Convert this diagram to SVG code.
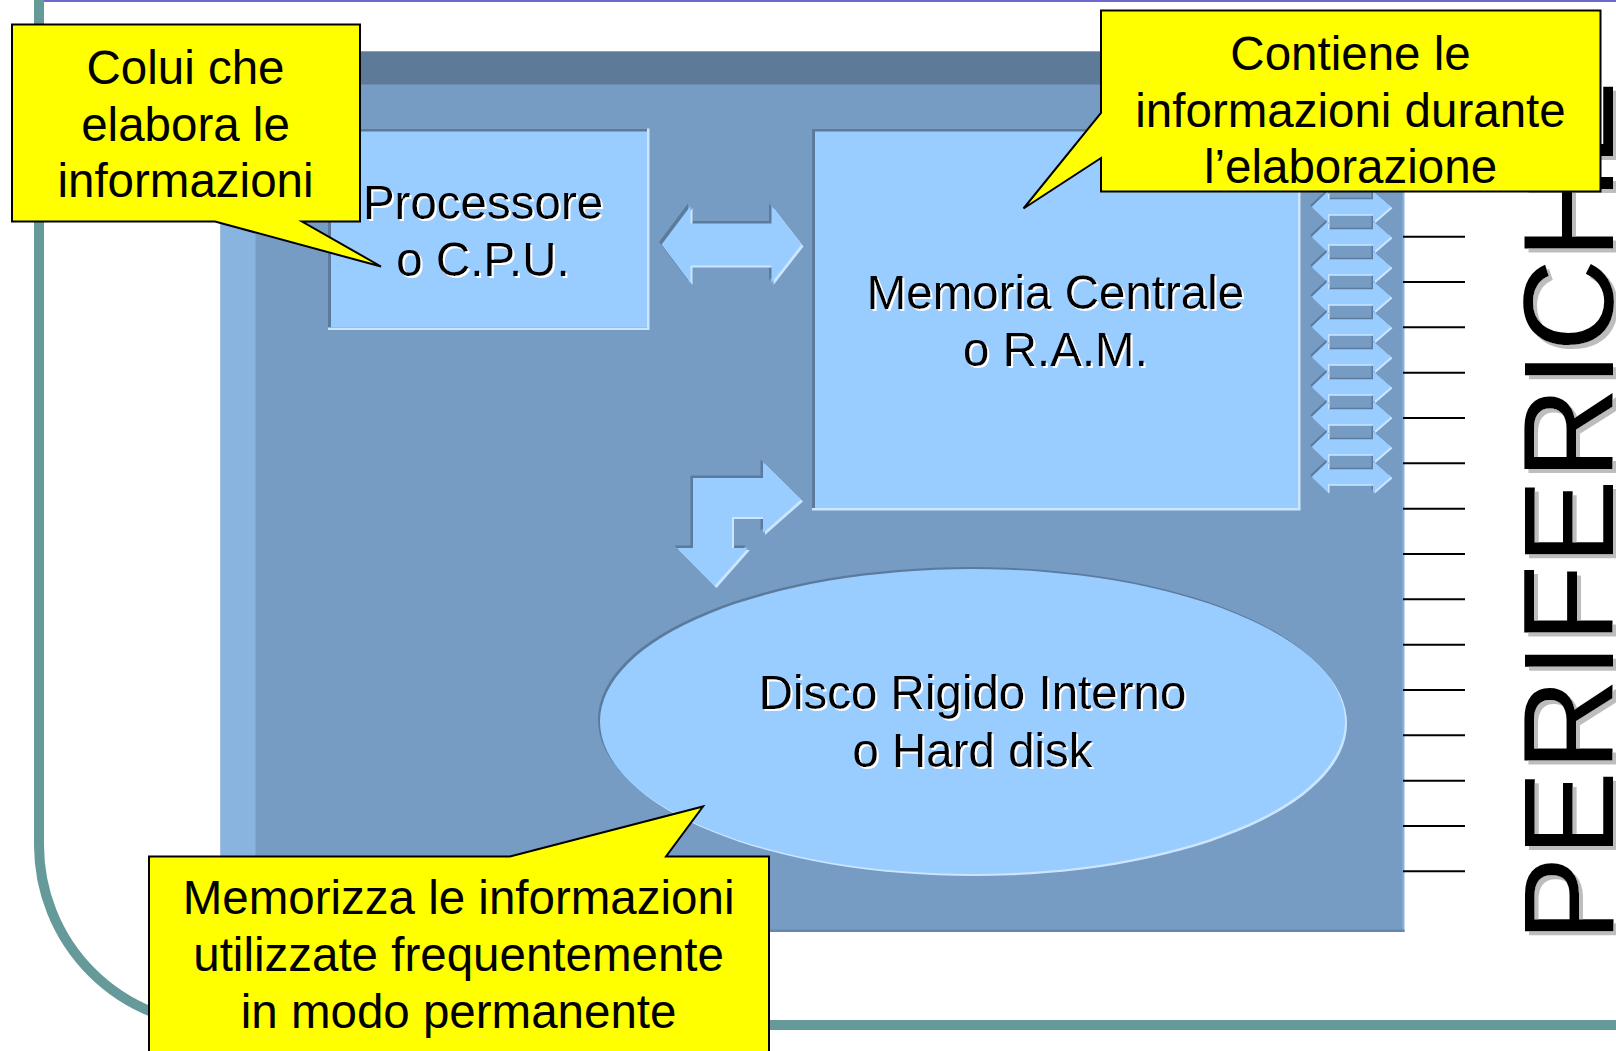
<svg xmlns="http://www.w3.org/2000/svg" xmlns:xlink="http://www.w3.org/1999/xlink" width="1616" height="1051" viewBox="0 0 1616 1051">
<style>
.t{font-family:"Liberation Sans",Arial,sans-serif;font-size:47.5px;fill:#000;text-anchor:middle}
.callout{fill:#ffff00;stroke:#000;stroke-width:2;stroke-linejoin:miter}
.tick{stroke:#000;stroke-width:2}
.dk{fill:#5b7a9c}
.lt{fill:#cce6ff}
.fl{fill:#99ccff}
</style>
<defs>
<filter id="ws" x="-10%" y="-20%" width="120%" height="150%">
<feFlood flood-color="#ffffff"/>
<feComposite in2="SourceAlpha" operator="in"/>
<feOffset dx="2" dy="2" result="s"/>
<feMerge><feMergeNode in="s"/><feMergeNode in="SourceGraphic"/></feMerge>
</filter>
<filter id="gs" x="-10%" y="-10%" width="120%" height="120%">
<feFlood flood-color="#bdbdbd"/>
<feComposite in2="SourceAlpha" operator="in"/>
<feOffset dx="4" dy="4" result="s"/>
<feMerge><feMergeNode in="s"/><feMergeNode in="SourceGraphic"/></feMerge>
</filter>
<path id="dbl" d="M661.6,244.5 L690.5,206 L690.5,223.5 L771.5,223.5 L771.5,206 L801.5,244.5 L771.5,283 L771.5,265.5 L690.5,265.5 L690.5,283 Z"/>
<path id="bent" d="M693,478 L763,478 L763,462 L801,499.5 L763,533 L763,517 L732,517 L732,548 L748,548 L714.5,586 L677,548 L693,548 Z"/>
<path id="sap" d="M0,0 L16.3,-15.5 L16.3,-7.5 L61.3,-7.5 L61.3,-15.5 L79.3,0 L61.3,15.5 L61.3,7.5 L16.3,7.5 L16.3,15.5 Z"/>
<g id="sa">
<use xlink:href="#sap" class="dk" x="-1.5" y="-1.5"/>
<use xlink:href="#sap" class="lt" x="1.5" y="1.5"/>
<use xlink:href="#sap" class="fl"/>
</g>
</defs>

<rect x="0" y="0" width="1616" height="1051" fill="#ffffff"/>

<g id="frame">
<line x1="44" y1="1" x2="1616" y2="1" stroke="#6a6acc" stroke-width="2"/>
<path d="M39,0 V845 A180,180 0 0 0 219,1025 H1620" fill="none" stroke="#669999" stroke-width="10"/>
</g>

<g id="panel">
<rect x="220.5" y="51.5" width="1183.5" height="880.5" fill="#769cc4"/>
<rect x="220.5" y="51.5" width="1183.5" height="33" fill="#5e7a99"/>
<rect x="220.5" y="84.5" width="35" height="847.5" fill="#8ab4e0"/>
<rect x="1402.5" y="84.5" width="2" height="847.5" fill="#8ab4e0"/>
<rect x="220.5" y="929.5" width="1184" height="2.5" fill="#6686ab"/>
</g>

<g id="cpu">
<rect x="328" y="128.5" width="321.5" height="201.5" class="lt"/>
<rect x="328" y="128.5" width="319" height="199" class="dk"/>
<rect x="331" y="131.5" width="316" height="196" class="fl"/>
<text class="t" filter="url(#ws)"><tspan x="483" y="218.5">Processore</tspan><tspan x="483" y="276">o C.P.U.</tspan></text>
</g>

<g id="ram">
<rect x="812" y="128.5" width="488.5" height="382" class="lt"/>
<rect x="812" y="128.5" width="486" height="379.5" class="dk"/>
<rect x="815" y="131.5" width="483" height="376.5" class="fl"/>
<text class="t" filter="url(#ws)"><tspan x="1055.5" y="309">Memoria Centrale</tspan><tspan x="1055.5" y="366">o R.A.M.</tspan></text>
</g>

<g id="disk">
<ellipse cx="970.5" cy="719.5" rx="372.5" ry="152.5" class="dk"/>
<ellipse cx="974.5" cy="723.5" rx="372.5" ry="152.5" class="lt"/>
<ellipse cx="972.5" cy="721.5" rx="372.5" ry="152.5" class="fl"/>
<text class="t" filter="url(#ws)"><tspan x="972.5" y="709">Disco Rigido Interno</tspan><tspan x="972.5" y="767">o Hard disk</tspan></text>
</g>

<g id="connectors">
<g id="cpu-ram">
<use xlink:href="#dbl" class="dk" x="-2.5" y="-2.5"/>
<use xlink:href="#dbl" class="lt" x="2" y="2"/>
<use xlink:href="#dbl" class="fl"/>
</g>
<g id="ram-disk">
<use xlink:href="#bent" class="dk" x="-2.5" y="-2.5"/>
<use xlink:href="#bent" class="lt" x="2" y="2"/>
<use xlink:href="#bent" class="fl"/>
</g>
<g id="bus">
<use xlink:href="#sa" transform="translate(1311.7,206.7)"/>
<use xlink:href="#sa" transform="translate(1311.7,236.7)"/>
<use xlink:href="#sa" transform="translate(1311.7,266.7)"/>
<use xlink:href="#sa" transform="translate(1311.7,296.7)"/>
<use xlink:href="#sa" transform="translate(1311.7,326.7)"/>
<use xlink:href="#sa" transform="translate(1311.7,356.7)"/>
<use xlink:href="#sa" transform="translate(1311.7,386.7)"/>
<use xlink:href="#sa" transform="translate(1311.7,416.7)"/>
<use xlink:href="#sa" transform="translate(1311.7,446.7)"/>
<use xlink:href="#sa" transform="translate(1311.7,476.7)"/>
</g>
</g>

<g id="periferiche">
<line class="tick" x1="1403" y1="236.7" x2="1465" y2="236.7"/>
<line class="tick" x1="1403" y1="282" x2="1465" y2="282"/>
<line class="tick" x1="1403" y1="327.3" x2="1465" y2="327.3"/>
<line class="tick" x1="1403" y1="372.7" x2="1465" y2="372.7"/>
<line class="tick" x1="1403" y1="418" x2="1465" y2="418"/>
<line class="tick" x1="1403" y1="463.3" x2="1465" y2="463.3"/>
<line class="tick" x1="1403" y1="508.7" x2="1465" y2="508.7"/>
<line class="tick" x1="1403" y1="554" x2="1465" y2="554"/>
<line class="tick" x1="1403" y1="599.3" x2="1465" y2="599.3"/>
<line class="tick" x1="1403" y1="644.7" x2="1465" y2="644.7"/>
<line class="tick" x1="1403" y1="690" x2="1465" y2="690"/>
<line class="tick" x1="1403" y1="735.3" x2="1465" y2="735.3"/>
<line class="tick" x1="1403" y1="780.7" x2="1465" y2="780.7"/>
<line class="tick" x1="1403" y1="826" x2="1465" y2="826"/>
<line class="tick" x1="1403" y1="871.3" x2="1465" y2="871.3"/>
<g filter="url(#gs)">
<text transform="translate(1613,941.8) rotate(-90)" style="font-family:'Liberation Sans',Arial,sans-serif;font-size:128px;fill:#000">PERIFERICHE</text>
</g>
</g>

<g id="callout-cpu">
<path class="callout" d="M12,24.5 H360 V221.5 H302 L381,266.5 L215,221.5 H12 Z"/>
<text class="t"><tspan x="185.5" y="84">Colui che</tspan><tspan x="185.5" y="140.7">elabora le</tspan><tspan x="185.5" y="197.4">informazioni</tspan></text>
</g>

<g id="callout-ram">
<path class="callout" d="M1101,10.5 H1600.5 V191.5 H1101 V158 L1023.5,208.5 L1101,113 Z"/>
<text class="t"><tspan x="1350.5" y="70">Contiene le</tspan><tspan x="1350.5" y="126.7">informazioni durante</tspan><tspan x="1350.5" y="183.4">l’elaborazione</tspan></text>
</g>

<g id="callout-disk">
<path class="callout" d="M149,856.5 H510 L703,806.5 L666,856.5 H769 V1060 H149 Z"/>
<text class="t"><tspan x="458.6" y="914">Memorizza le informazioni</tspan><tspan x="458.6" y="971">utilizzate frequentemente</tspan><tspan x="458.6" y="1028">in modo permanente</tspan></text>
</g>
</svg>
